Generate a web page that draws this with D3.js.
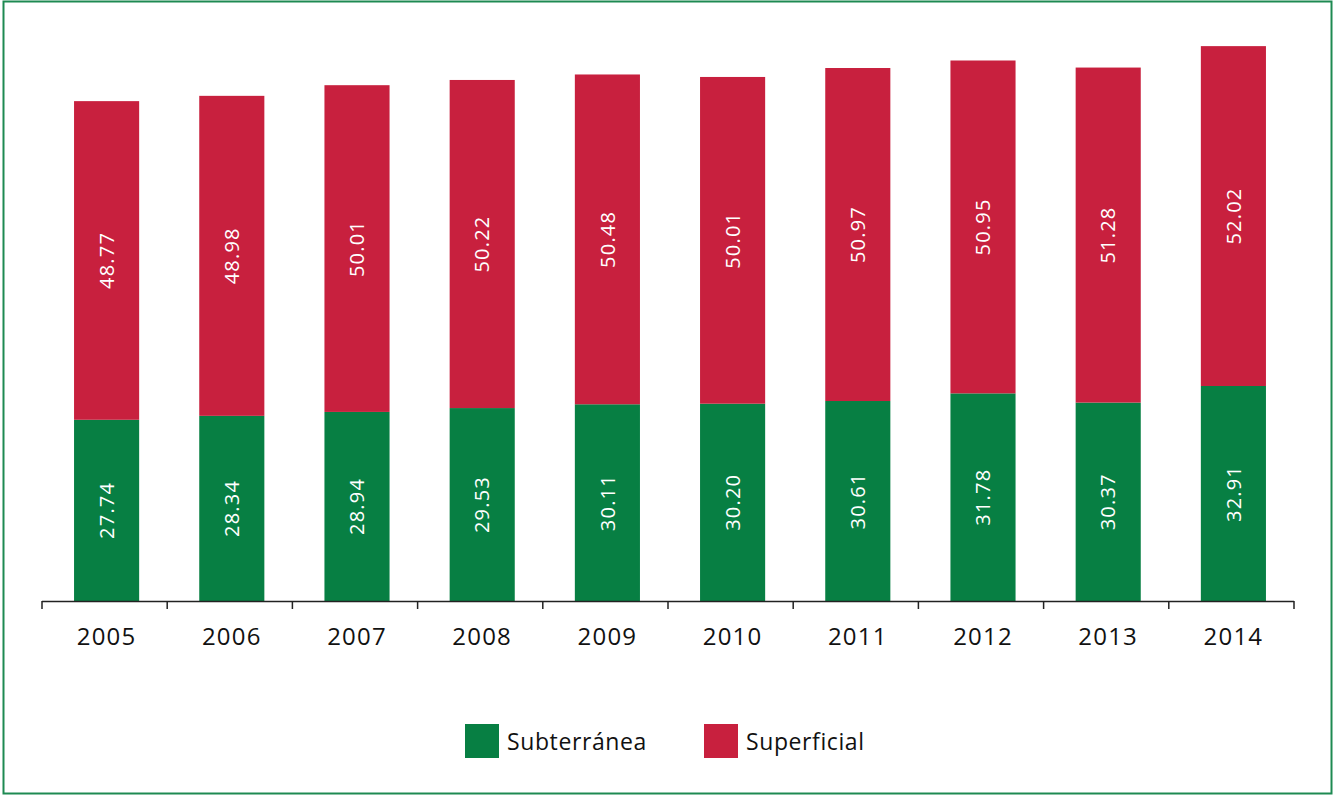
<!DOCTYPE html>
<html>
<head>
<meta charset="utf-8">
<script src="https://cdn.jsdelivr.net/npm/d3@7"></script>
<style>
  body { margin: 0; background: #fff; }
  svg { display: block; font-family: "Open Sans", "DejaVu Sans", sans-serif; }
</style>
</head>
<body>
<svg id="chart" width="1333" height="795"></svg>
<script>
// Chart data
const years = ['2005', '2006', '2007', '2008', '2009', '2010', '2011', '2012', '2013', '2014'];
const subterranea = [27.74, 28.34, 28.94, 29.53, 30.11, 30.20, 30.61, 31.78, 30.37, 32.91];
const superficial = [48.77, 48.98, 50.01, 50.22, 50.48, 50.01, 50.97, 50.95, 51.28, 52.02];
const seriesNames = ['Subterránea', 'Superficial'];
const seriesColors = ['#077f43', '#c8203e'];

const svg = d3.select('#chart');

// Outer frame
svg.append('rect')
    .attr('x', 3.5)
    .attr('y', 1.5)
    .attr('width', 1328)
    .attr('height', 792)
    .attr('fill', 'none')
    .attr('stroke', '#1e8a52')
    .attr('stroke-width', 2);

const axisLeft = 42, axisRight = 1294;

const x = d3.scaleBand()
    .domain(years)
    .range([axisLeft + 2, axisRight + 2])
    .paddingInner(0.48)
    .paddingOuter(0.24);

const y = d3.scaleLinear()
    .domain([0, 90])
    .range([601, 13]);

const rows = years.map((year, i) => ({
    year,
    Subterránea: subterranea[i],
    Superficial: superficial[i]
}));

const stacked = d3.stack().keys(seriesNames)(rows);

const layers = svg.append('g')
    .selectAll('g')
    .data(stacked)
    .join('g')
    .attr('fill', (d, i) => seriesColors[i]);

layers.selectAll('rect')
    .data(d => d)
    .join('rect')
    .attr('x', d => x(d.data.year))
    .attr('y', d => y(d[1]))
    .attr('width', x.bandwidth())
    .attr('height', d => y(d[0]) - y(d[1]));

// Rotated value labels
layers.selectAll('text')
    .data(d => d)
    .join('text')
    .attr('transform', d => {
        const cx = x(d.data.year) + x.bandwidth() / 2;
        const cy = (y(d[0]) + y(d[1])) / 2;
        return `translate(${cx},${cy}) rotate(-90)`;
    })
    .attr('text-anchor', 'middle')
    .attr('dy', '0.36em')
    .attr('fill', '#fff')
    .attr('font-size', 20)
    .attr('letter-spacing', 1.2)
    .text(d => (d[1] - d[0]).toFixed(2));

// X axis with ticks between categories
const axisG = svg.append('g');
axisG.append('line')
    .attr('x1', axisLeft)
    .attr('x2', axisRight)
    .attr('y1', 601.5)
    .attr('y2', 601.5)
    .attr('stroke', '#222')
    .attr('stroke-width', 1.5);

const boundaries = d3.range(years.length + 1)
    .map(i => axisLeft + i * ((axisRight - axisLeft) / years.length));
axisG.selectAll('line.tick')
    .data(boundaries)
    .join('line')
    .attr('class', 'tick')
    .attr('x1', d => d)
    .attr('x2', d => d)
    .attr('y1', 601)
    .attr('y2', 609)
    .attr('stroke', '#222')
    .attr('stroke-width', 1.5);

axisG.selectAll('text')
    .data(years)
    .join('text')
    .attr('x', d => x(d) + x.bandwidth() / 2)
    .attr('y', 645)
    .attr('text-anchor', 'middle')
    .attr('font-size', 24)
    .attr('letter-spacing', 1.2)
    .attr('fill', '#111')
    .text(d => d);

// Legend
const legendX = [465, 704];
const legend = svg.append('g')
    .selectAll('g')
    .data(seriesNames)
    .join('g')
    .attr('transform', (d, i) => `translate(${legendX[i]}, 724)`);

legend.append('rect')
    .attr('width', 34)
    .attr('height', 34)
    .attr('fill', (d, i) => seriesColors[i]);

legend.append('text')
    .attr('x', 42)
    .attr('y', 26)
    .attr('font-size', 23)
    .attr('letter-spacing', 0.6)
    .attr('fill', '#111')
    .text(d => d);
</script>
</body>
</html>
